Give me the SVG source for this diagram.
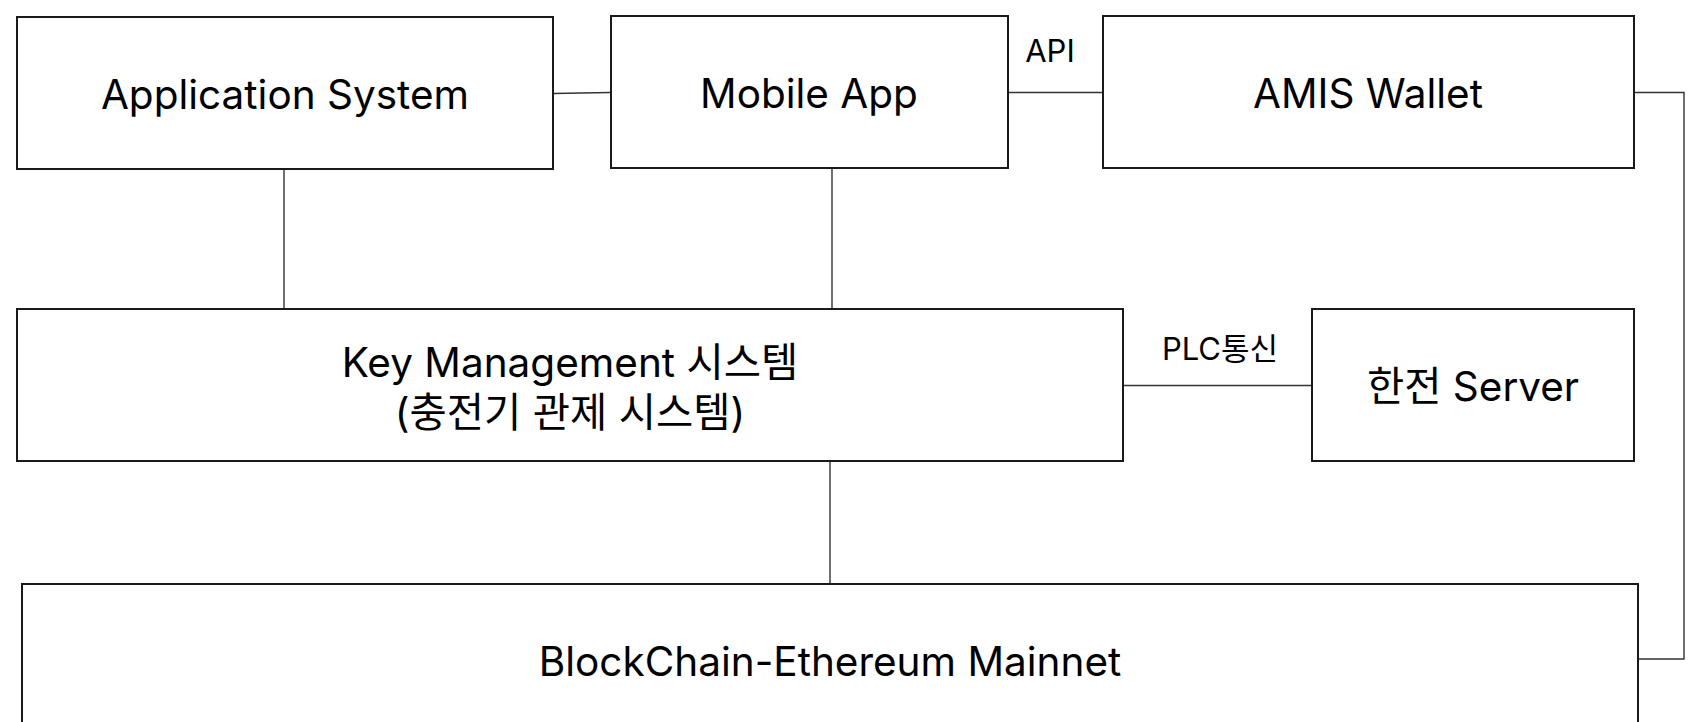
<svg xmlns="http://www.w3.org/2000/svg" width="1695" height="722" viewBox="0 0 1695 722">
<style>
.box{fill:#fff;stroke:#1a1a1a;stroke-width:2}
.lbl{font-family:Inter,"Noto Sans CJK KR","Noto Sans",sans-serif;font-size:40.5px;fill:#000;text-anchor:middle}
.elbl{font-family:Inter,"Noto Sans CJK KR","Noto Sans",sans-serif;font-size:31px;fill:#000;text-anchor:middle}
.conn{fill:none;stroke:#333;stroke-width:1.4}
</style>
<rect width="1695" height="722" fill="#fff"/>
<g id="connectors">
<line class="conn" x1="553" y1="93.5" x2="610" y2="92.5"/>
<line class="conn" x1="1008" y1="92.5" x2="1103" y2="92.5"/>
<polyline class="conn" points="1634,92.5 1684,92.5 1684,659 1638,659"/>
<line class="conn" x1="284" y1="169" x2="284" y2="309"/>
<line class="conn" x1="832" y1="168" x2="832" y2="309"/>
<line class="conn" x1="1123" y1="385.5" x2="1312" y2="385.5"/>
<line class="conn" x1="830" y1="461" x2="830" y2="584"/>
<text class="elbl" x="1050" y="62">API</text>
<text class="elbl" x="1220" y="360">PLC통신</text>
</g>
<g id="app-system">
<rect class="box" x="17" y="17" width="536" height="152"/>
<text class="lbl" x="285" y="109">Application System</text>
</g>
<g id="mobile-app">
<rect class="box" x="611" y="16" width="397" height="152"/>
<text class="lbl" x="809" y="108">Mobile App</text>
</g>
<g id="amis-wallet">
<rect class="box" x="1103" y="16" width="531" height="152"/>
<text class="lbl" x="1368" y="108">AMIS Wallet</text>
</g>
<g id="key-management">
<rect class="box" x="17" y="309" width="1106" height="152"/>
<text class="lbl" x="570" y="377">Key Management 시스템</text>
<text class="lbl" x="570" y="427">(충전기 관제 시스템)</text>
</g>
<g id="kepco-server">
<rect class="box" x="1312" y="309" width="322" height="152"/>
<text class="lbl" x="1473" y="401">한전 Server</text>
</g>
<g id="blockchain">
<rect class="box" x="22" y="584" width="1616" height="160"/>
<text class="lbl" x="830" y="676">BlockChain-Ethereum Mainnet</text>
</g>
</svg>
